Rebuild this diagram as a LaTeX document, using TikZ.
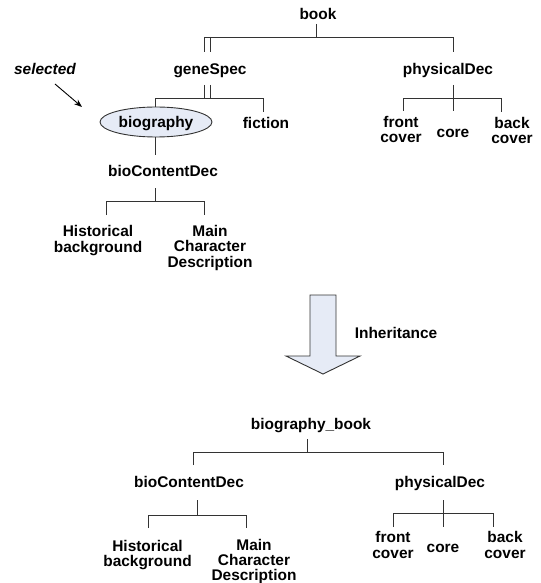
\documentclass[tikz,border=0pt]{standalone}
\usepackage{fontspec}
\setmainfont{Liberation Sans}
\usetikzlibrary{shapes.geometric,arrows.meta}
\definecolor{linegray}{HTML}{333333}
\definecolor{paleblue}{HTML}{E6EBF6}
\tikzset{
  lbl/.style={inner sep=0pt, align=center, font=\fontsize{15.5}{15.5}\selectfont\bfseries},
  one/.style={lbl, text height=11bp, text depth=0pt},
  conn/.style={draw=linegray, line width=0.9bp},
}
\begin{document}
\begin{tikzpicture}[x=1bp,y=-1bp]
\useasboundingbox (0,0) rectangle (541,583);
% top tree nodes
\node[one] (book) at (318,14) {book};
\node[one] (gene) at (210,69) {geneSpec};
\node[one] (phys) at (448,69) {physicalDec};
\node[lbl] (front) at (401,129.5) {front\\cover};
\node[one] (core) at (453,132) {core};
\node[lbl] (back) at (512,130.5) {back\\cover};
\node[one, ellipse, draw=linegray, line width=0.9bp, fill=paleblue, minimum width=112bp, minimum height=30bp] (bio) at (156,122) {biography};
\node[one] (fic) at (266,123) {fiction};
\node[one, font=\fontsize{15.5}{15.5}\selectfont\bfseries\itshape] (sel) at (45,69) {selected};
\node[one] (bcd) at (163,171) {bioContentDec};
\node[lbl] (hist) at (98,240.5) {Historical\\background};
\node[lbl] (main) at (210,248) {Main\\Character\\Description};
% top tree connectors
\coordinate (b1) at (316,37);
\draw[conn] (316,24) -- (b1);
\draw[conn] (210,37) -- (453,37) -- (453,52);
\draw[conn] (204,37) -- (210,37);
\draw[conn] (204,37) -- (204,52);
\draw[conn] (210,37) -- (210,52);
\draw[conn] (204,85) -- (204,98);
\draw[conn] (210,85) -- (210,98);
\draw[conn] (155,107) -- (155,98) -- (263,98) -- (263,112);
\draw[conn] (bio.south -| 155,0) -- (155,155);
\draw[conn] (155,188) -- (155,201);
\draw[conn] (106,215) -- (106,201) -- (204,201) -- (204,215);
\draw[conn] (453,85) -- (453,111);
\draw[conn] (403,111) -- (403,98) -- (501,98) -- (501,112);
% selected arrow
\coordinate (selend) at (82,107);
\draw[black, line width=0.9bp, -{Stealth[length=8bp,width=6bp]}] (55,84) -- (selend);
% inheritance arrow
\draw[draw=linegray, line width=0.9bp, fill=paleblue] (310,295) -- (336,295) -- (336,356) -- (360,356) -- (323,374) -- (286,356) -- (310,356) -- cycle;
\node[one] (inh) at (396,333) {Inheritance};
% bottom tree nodes
\node[one] (bb) at (311,424) {biography\_book};
\node[one] (bcd2) at (189,482) {bioContentDec};
\node[one] (phys2) at (440,482) {physicalDec};
\node[lbl] (hist2) at (147.5,555) {Historical\\background};
\node[lbl] (main2) at (254,561.5) {Main\\Character\\Description};
\node[lbl] (front2) at (393,545) {front\\cover};
\node[one] (core2) at (443,547) {core};
\node[lbl] (back2) at (505,545) {back\\cover};
% bottom tree connectors
\draw[conn] (307,439) -- (307,452);
\draw[conn] (193,465) -- (193,452) -- (443,452) -- (443,465);
\draw[conn] (197,500) -- (197,515);
\draw[conn] (148,528) -- (148,515) -- (246,515) -- (246,528);
\draw[conn] (443,500) -- (443,527);
\draw[conn] (393,527) -- (393,513) -- (493,513) -- (493,527);
\end{tikzpicture}
\end{document}
